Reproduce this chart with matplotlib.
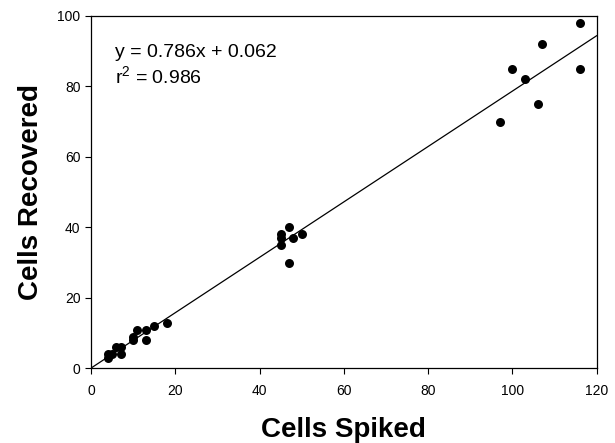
import matplotlib
matplotlib.use("Agg")
import matplotlib.pyplot as plt
import numpy as np

# ----- DATA -----
spiked = [4, 4, 5, 6, 7, 7, 10, 10, 11, 13, 13, 15, 18,
          45, 45, 45, 47, 48, 50, 47,
          97, 100, 103, 106, 107, 116, 116]
recovered = [3, 4, 4, 6, 6, 4, 8, 9, 11, 11, 8, 12, 13,
             38, 37, 35, 40, 37, 38, 30,
             70, 85, 82, 75, 92, 98, 85]
slope = 0.786
intercept = 0.062
r2 = 0.986
x_ticks = [0, 20, 40, 60, 80, 100, 120]
y_ticks = [0, 20, 40, 60, 80, 100]

plt.rcParams['font.family'] = ['Liberation Sans', 'DejaVu Sans']
plt.rcParams['mathtext.fontset'] = 'custom'
plt.rcParams['mathtext.rm'] = 'Liberation Sans'
plt.rcParams['mathtext.it'] = 'Liberation Sans'

# --- Figure setup ---
fig = plt.figure(figsize=(6.15, 4.43), dpi=100)
ax = fig.add_axes([0.148, 0.1686, 0.822, 0.7953])

ax.scatter(spiked, recovered, s=42, color='black', zorder=3, linewidths=0)

xs = np.array([0, 120])
ax.plot(xs, slope * xs + intercept, color='black', lw=0.9)

ax.set_xlim(0, 120)
ax.set_ylim(0, 100)
ax.set_xticks(x_ticks)
ax.set_yticks(y_ticks)
ax.tick_params(direction='out', length=4, width=0.8, labelsize=10, colors='black')
ax.tick_params(axis='x', pad=7)
for sp in ax.spines.values():
    sp.set_linewidth(0.9)

ax.set_xlabel("Cells Spiked", fontsize=20, fontweight='bold', labelpad=14)
ax.set_ylabel("Cells Recovered", fontsize=20, fontweight='bold', labelpad=10)

ax.text(0.047, 0.884, f"y = {slope}x + {intercept}", transform=ax.transAxes,
        fontsize=14, va='baseline', ha='left')
ax.text(0.047, 0.809, f"r$^{{2}}$ = {r2}", transform=ax.transAxes,
        fontsize=14, va='baseline', ha='left')

fig.savefig("out.png", dpi=100)
